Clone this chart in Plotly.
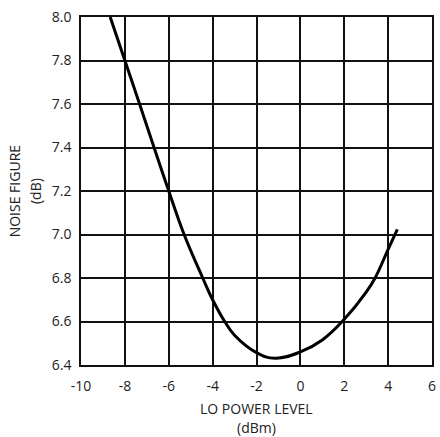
import plotly.graph_objects as go

lo_power = [-8.67, -8.0, -7.33, -6.67, -6.0, -5.3, -4.45, -4.0, -3.45, -3.0, -2.0, -1.15, 0.0, 1.0, 2.0, 3.0, 3.4, 4.0, 4.42]
noise_fig = [8.0, 7.8, 7.6, 7.4, 7.2, 7.0, 6.8, 6.7, 6.6, 6.537, 6.457, 6.431, 6.46, 6.515, 6.61, 6.735, 6.799, 6.932, 7.024]

x_ticks = [-10, -8, -6, -4, -2, 0, 2, 4, 6]
y_ticks = [6.4, 6.6, 6.8, 7.0, 7.2, 7.4, 7.6, 7.8, 8.0]

FONT = "Open Sans"
TXT = "#222"

fig = go.Figure()
fig.add_trace(go.Scatter(x=lo_power, y=noise_fig, mode="lines",
                         line=dict(color="black", width=3, shape="spline", smoothing=1.2),
                         showlegend=False, hoverinfo="skip"))

axis_common = dict(showgrid=True, gridcolor="#111", gridwidth=1.5,
                   showline=True, linecolor="#111", linewidth=1.5, mirror=True,
                   zeroline=False, ticks="", ticklen=0, automargin=False,
                   tickfont=dict(size=14, family=FONT, color=TXT))

fig.update_layout(
    width=440, height=437,
    margin=dict(l=81, r=8, t=17, b=72),
    plot_bgcolor="white", paper_bgcolor="white",
    font=dict(family=FONT, size=14, color=TXT),
    xaxis=dict(range=[-10, 6], tickvals=x_ticks, ticktext=[str(v) for v in x_ticks],
               ticklabelstandoff=7, **axis_common),
    yaxis=dict(range=[6.4, 8.0], tickvals=y_ticks, ticktext=[f"{v:.1f}" for v in y_ticks],
               ticklabelstandoff=5, **axis_common),
    annotations=[
        dict(text="LO POWER LEVEL", xref="paper", yref="paper",
             x=0.5, y=-0.1236, xanchor="center", yanchor="middle", showarrow=False,
             borderpad=0, font=dict(size=14, family=FONT, color=TXT)),
        dict(text="(dBm)", xref="paper", yref="paper",
             x=0.5, y=-0.179, xanchor="center", yanchor="middle", showarrow=False,
             borderpad=0, font=dict(size=14, family=FONT, color=TXT)),
        dict(text="NOISE FIGURE", xref="paper", yref="paper",
             x=-0.19, y=0.5, xanchor="center", yanchor="middle", textangle=-90,
             showarrow=False, borderpad=0, font=dict(size=14, family=FONT, color=TXT)),
        dict(text="(dB)", xref="paper", yref="paper",
             x=-0.131, y=0.5, xanchor="center", yanchor="middle", textangle=-90,
             showarrow=False, borderpad=0, font=dict(size=14, family=FONT, color=TXT)),
    ],
)

fig.write_html("out.html")
